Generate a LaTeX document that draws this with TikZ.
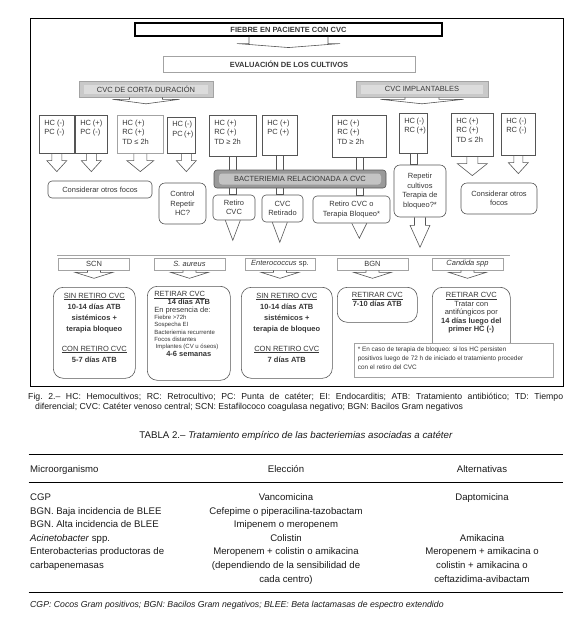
\documentclass[tikz,border=0pt]{standalone}
\usepackage{fontspec}
\setmainfont{Liberation Sans}
\usetikzlibrary{calc,backgrounds}

\definecolor{edge}{HTML}{555555}
\definecolor{pale}{HTML}{A3A3A3}
\definecolor{ink}{HTML}{363636}
\definecolor{cvcfill}{HTML}{C9C9C9}
\definecolor{cvcband}{HTML}{DCDCDC}
\definecolor{bacfill}{HTML}{9A9A9A}
\definecolor{bacband}{HTML}{C3C3C3}

% top aligned text block: width, height, text
\newcommand{\toptext}[3]{\parbox[b][#2pt][t]{#1pt}{\exhyphenpenalty=10000 \hbadness=10000 \hfuzz=20pt #3}}
\newcommand{\centred}[1]{\makebox[\linewidth][c]{#1}}
% block arrow under a point: point, shaft half width, shaft length, wing half width, head depth
\newcommand{\blockarrow}[5]{\draw[blk] (#1) ++(-#2,0) -- ++(0,#3) -- ++({#2-#4},0) -- ++(#4,#5) -- ++(#4,-#5) -- ++({#2-#4},0) -- ++(0,-#3);}
% open triangle under a point: point, half width, depth
\newcommand{\wedgetip}[3]{\draw[blk] (#1) ++(-#2,0) -- ++(#2,#3) -- ++(#2,-#3);}

\begin{document}
\begin{tikzpicture}[x=1pt, y=-1pt,
  flow/.style={text=ink, font=\fontsize{7.5}{9.6}\selectfont},
  hc/.style={flow, draw=edge, line width=0.6pt, anchor=north west, inner xsep=5pt, inner ysep=4.5pt},
  hcpale/.style={hc, draw=pale},
  rbox/.style={flow, draw=edge, line width=0.6pt, rounded corners=#1, align=center, inner sep=1pt},
  rbox/.default=4pt,
  innerband/.style={path picture={\fill[#1] ([xshift=5pt,yshift=-3.5pt]path picture bounding box.north west) rectangle ([xshift=-5pt,yshift=3.5pt]path picture bounding box.south east);}},
  topbox/.style={flow, draw=black, line width=1.1pt, font=\bfseries\fontsize{7.5}{9}\selectfont, minimum width=307pt, minimum height=13pt, inner sep=0pt},
  evalbox/.style={flow, draw=pale, line width=0.6pt, font=\bfseries\fontsize{7.5}{9}\selectfont, minimum width=252pt, minimum height=16pt, inner sep=0pt},
  cvc/.style={flow, draw=pale, line width=0.6pt, fill=cvcfill, innerband=cvcband, minimum height=16pt, inner sep=0pt},
  bac/.style={flow, draw=edge, line width=0.6pt, fill=bacfill, innerband=bacband, rounded corners=3pt, minimum width=172pt, minimum height=18pt, inner sep=0pt},
  orglab/.style={flow, draw=pale, line width=0.6pt, minimum width=71pt, minimum height=12pt, inner sep=0pt},
  orgbox/.style={flow, draw=edge, line width=0.6pt, rounded corners=10pt, anchor=north west, inner xsep=4pt, inner ysep=5.5pt, font=\fontsize{7.5}{11}\selectfont},
  note/.style={flow, draw=pale, line width=0.6pt, fill=white, anchor=north west, inner xsep=3.5pt, inner ysep=4pt, font=\fontsize{6.4}{9}\selectfont},
  blk/.style={draw=edge, line width=0.6pt, line join=miter},
  pipe/.style={draw=edge, line width=0.6pt},
  cell/.style={inner sep=0pt, text=black!90, font=\fontsize{9.6}{11}\selectfont},
  capt/.style={inner sep=0pt, anchor=base west, text=black!90, font=\fontsize{8.7}{9.4}\selectfont\frenchspacing},
  rule/.style={line width=0.9pt}
]
\useasboundingbox (0,0) rectangle (578,619);

% figure frame
\draw[line width=0.8pt] (30,18) rectangle (563,386);

\node[topbox] (fiebre) at (288.5,29.5) {FIEBRE EN PACIENTE CON CVC};
\node[evalbox] (eval) at (289,64) {EVALUACIÓN DE LOS CULTIVOS};
\node[cvc, minimum width=134pt] (corta) at (146,89) {CVC DE CORTA DURACIÓN};
\node[cvc, minimum width=132pt] (impl) at (422,89) {CVC IMPLANTABLES};

% culture results
\node[hc] (h1) at (39,115) {\toptext{25}{29}{HC~(-)\\PC~(-)}};
\node[hc] (h2) at (75,115) {\toptext{22}{29}{HC~(+)\\PC~(-)}};
\node[hcpale] (h3) at (117,115) {\toptext{36}{29}{HC~(+)\\RC~(+)\\TD~≤~2h}};
\node[hc] (h4) at (167,116.5) {\toptext{18}{27.5}{HC~(-)\\PC~(+)}};
\node[hc] (h5) at (209,115) {\toptext{37}{32}{HC~(+)\\RC~(+)\\TD~≥~2h}};
\node[hc] (h6) at (262,115) {\toptext{25}{31}{HC~(+)\\PC~(+)}};
\node[hc] (h7) at (332,115) {\toptext{44}{33}{HC~(+)\\RC~(+)\\TD~≥~2h}};
\node[hc] (h8) at (399,113) {\toptext{18}{31}{HC~(-)\\RC~(+)}};
\node[hc] (h9) at (451,113) {\toptext{32}{34}{HC~(+)\\RC~(+)\\TD~≤~2h}};
\node[hc] (h10) at (501,113) {\toptext{24}{33}{HC~(-)\\RC~(-)}};

% decisions
\node[rbox, minimum width=104pt, minimum height=17pt] (otros1) at (100,189.5) {Considerar otros focos};
\node[rbox=6pt, minimum width=47pt, minimum height=41pt] (control) at (182.5,203.5) {Control\\Repetir\\HC?};
\node[bac] (bact) at (300,179) {BACTERIEMIA RELACIONADA A CVC};
\node[rbox, minimum width=42pt, minimum height=25pt] (retiro) at (234,207.5) {Retiro\\CVC};
\node[rbox, minimum width=41pt, minimum height=27pt] (retirado) at (282.5,208.5) {CVC\\Retirado};
\node[rbox, minimum width=77pt, minimum height=27pt] (bloqueo) at (351.5,209.5) {Retiro CVC o\\Terapia Bloqueo*};
\node[rbox=6pt, minimum width=52pt, minimum height=52pt] (repetir) at (420,191) {Repetir\\cultivos\\Terapia de\\bloqueo?*};
\node[rbox=6pt, minimum width=76pt, minimum height=31pt] (otros2) at (499,198.5) {Considerar otros\\focos};

% germs
\draw[pale, line width=0.6pt] (57,255.5) -- (510,255.5);
\node[orglab] (scn) at (94,264) {SCN};
\node[orglab] (sau) at (189.5,264) {\textit{S. aureus}};
\node[orglab, minimum width=70pt] (ent) at (280,264) {\textit{Enterococcus} sp.};
\node[orglab] (bgn) at (372.5,264) {BGN};
\node[orglab] (cand) at (467.5,264) {\textit{Candida spp}};

\node[orgbox] (tscn) at (53,287) {\toptext{74}{80}{\centering
  \underline{SIN RETIRO CVC}\\ \textbf{10-14 días ATB}\\ \textbf{sistémicos +}\\ \textbf{terapia bloqueo}\\[9pt]
  \underline{CON RETIRO CVC}\\ \textbf{5-7 días ATB}}};
\node[orgbox, inner xsep=7pt, inner ysep=5pt, font=\fontsize{7.5}{8}\selectfont] (tsau) at (147,286) {\toptext{69}{84}{%
  \underline{RETIRAR CVC}\\ \centred{\textbf{14 días ATB}}\\ En presencia de:\par
  {\fontsize{6}{7.2}\selectfont Fiebre >72h\\ Sospecha EI\\ Bacteriemia recurrente\\ Focos distantes\\ \hspace*{1.5pt}Implantes (CV u óseos)\par}
  \centred{\textbf{4-6 semanas}}}};
\node[orgbox] (tent) at (241,287) {\toptext{83}{80}{\centering
  \underline{SIN RETIRO CVC}\\ \textbf{10-14 días ATB}\\ \textbf{sistémicos +}\\ \textbf{terapia de bloqueo}\\[9pt]
  \underline{CON RETIRO CVC}\\ \textbf{7 días ATB}}};
\node[orgbox, inner ysep=5pt, font=\fontsize{7.5}{8.5}\selectfont] (tbgn) at (337,287) {\toptext{72}{25}{\centering
  \underline{RETIRAR CVC}\\ \textbf{7-10 días ATB}}};
\node[orgbox, inner ysep=5pt, font=\fontsize{7.5}{8.5}\selectfont] (tcand) at (432,287) {\toptext{70}{55}{\centering
  \underline{RETIRAR CVC}\\ Tratar con\\ antifúngicos por\\ \textbf{14 días luego del}\\ \textbf{primer HC (-)}}};
\node[note] (nota) at (354,343) {\toptext{192}{26}{* En caso de terapia de bloqueo: si los HC persisten\\
  positivos luego de 72 h de iniciado el tratamiento proceder\\ con el retiro del CVC}};

% arrows
\blockarrow{fiebre.south}{39.5}{7}{51.5}{4}
\blockarrow{corta.south}{16.5}{2}{33.5}{4.5}
\blockarrow{impl.south}{17}{2}{41.5}{4.5}
\blockarrow{h1.south}{5}{7}{10}{11}
\blockarrow{h2.south}{5}{7}{10}{11}
\blockarrow{h3.south}{6.5}{7}{13.5}{11}
\blockarrow{$(h4.south)+(5,0)$}{5}{7}{10}{11}
\blockarrow{h9.south}{5.5}{7}{15}{12}
\blockarrow{h10.south}{4.5}{7}{10}{11}
\blockarrow{repetir.south}{5.5}{8}{10}{22}
\wedgetip{h5.south |- retiro.south}{7.5}{20}
\wedgetip{h6.south |- retirado.south}{7.5}{20}
\wedgetip{h7.south |- bloqueo.south}{7.5}{15}
\foreach \g in {scn,sau,ent,bgn,cand}
  {\blockarrow{\g.south}{6.5}{2}{19}{6}}

\begin{scope}[on background layer]
\draw[pipe] ($(h5.south)+(-3.5,0)$) rectangle ($(h5.south |- retiro.north)+(3.5,0)$);
\draw[pipe] ($(h6.south)+(-3.5,0)$) rectangle ($(h6.south |- retirado.north)+(3.5,0)$);
\draw[pipe] ($(h7.south)+(-3.5,0)$) rectangle ($(h7.south |- bloqueo.north)+(3.5,0)$);
\draw[pipe] ($(h8.south)+(-3.5,0)$) rectangle ($(h8.south |- repetir.north)+(3.5,0)$);
\end{scope}

% caption
\node[capt] (cap1) at (28,399) {\makebox[535pt][s]{Fig. 2.– HC: Hemocultivos; RC: Retrocultivo; PC: Punta de catéter; EI: Endocarditis; ATB: Tratamiento antibiótico; TD: Tiempo}};
\node[capt] (cap2) at (35,409.5) {diferencial; CVC: Catéter venoso central; SCN: Estafilococo coagulasa negativo; BGN: Bacilos Gram negativos};

% table
\node[capt, anchor=base, font=\fontsize{9.7}{11}\selectfont] (titulo) at (296,438.5) {TABLA 2.– \textit{Tratamiento empírico de las bacteriemias asociadas a catéter}};
\draw[rule] (28.5,454) -- (562.5,454);
\draw[rule] (28.5,482) -- (562.5,482);
\draw[rule] (28.5,592) -- (562.5,592);
\node[cell, anchor=base west] (hmic) at (30,472.4) {Microorganismo};
\node[cell, anchor=base] (helec) at (286,472.4) {Elección};
\node[cell, anchor=base] (halt) at (482,472.4) {Alternativas};
\foreach \t [count=\i from 0] in {CGP, BGN. Baja incidencia de BLEE, BGN. Alta incidencia de BLEE, \textit{Acinetobacter} spp., Enterobacterias productoras de, carbapenemasas}
  {\node[cell, anchor=base west] (mic\i) at (30,{500.5+13.6*\i}) {\t};}
\foreach \t [count=\i from 0] in {Vancomicina, Cefepime o piperacilina-tazobactam, Imipenem o meropenem, Colistin, Meropenem + colistin o amikacina, {(dependiendo de la sensibilidad de}, {cada centro)}}
  {\node[cell, anchor=base] (elec\i) at (286,{500.5+13.6*\i}) {\t};}
\foreach \i/\t in {0/Daptomicina, 3/Amikacina, 4/Meropenem + amikacina o, 5/colistin + amikacina o, 6/ceftazidima-avibactam}
  {\node[cell, anchor=base] (alt\i) at (482,{500.5+13.6*\i}) {\t};}
\node[capt] (pie) at (30,607) {\textit{CGP: Cocos Gram positivos; BGN: Bacilos Gram negativos; BLEE: Beta lactamasas de espectro extendido}};
\end{tikzpicture}
\end{document}
